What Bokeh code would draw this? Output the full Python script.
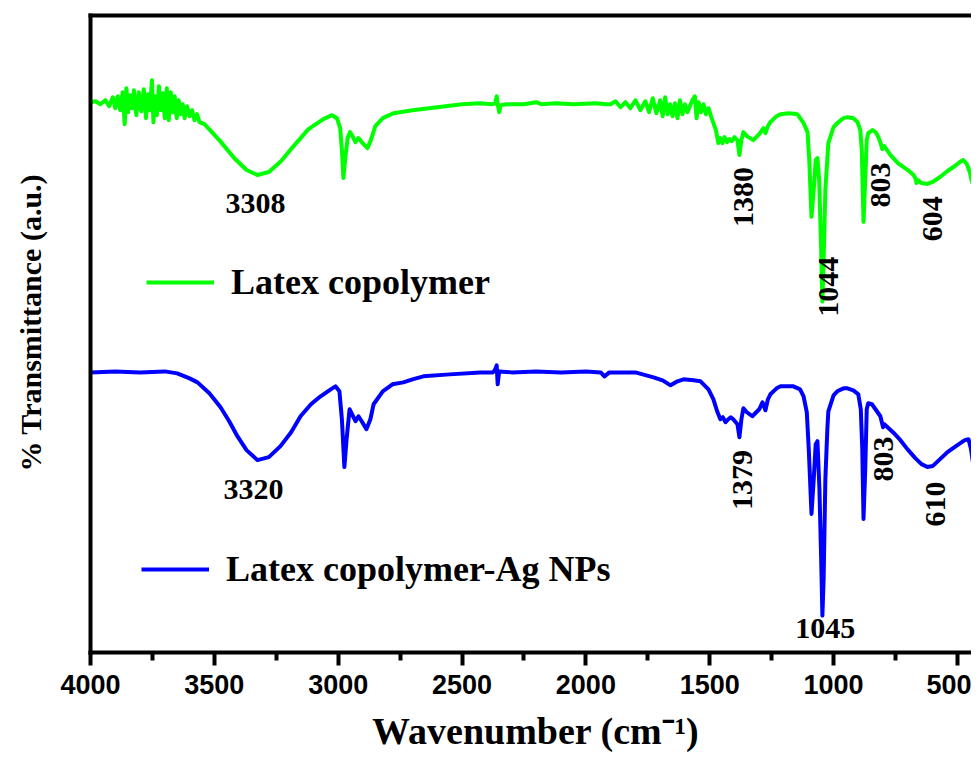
import math
from bokeh.plotting import figure
from bokeh.models import Range1d, FixedTicker, LinearAxis, Label, Legend, LegendItem
from bokeh.embed import file_html
from bokeh.resources import INLINE

# ---------------- data (arbitrary units) ----------------
wn_latex = [4000, 3980, 3960, 3940, 3925, 3910, 3900, 3890, 3880, 3870, 3862, 3855, 3848, 3840,
            3832, 3825, 3815, 3805, 3795, 3785, 3776, 3768, 3760, 3752, 3746, 3740, 3732, 3724,
            3716, 3708, 3700, 3692, 3684, 3676, 3668, 3660, 3652, 3644, 3636, 3628, 3620, 3610,
            3600, 3590, 3580, 3570, 3560, 3540, 3480, 3420, 3370, 3326, 3280, 3230, 3180, 3120,
            3060, 3025, 3005, 2992, 2985, 2979, 2972, 2962, 2952, 2940, 2930, 2918, 2905, 2882,
            2868, 2850, 2820, 2777, 2700, 2600, 2500, 2426, 2380, 2366, 2360, 2355, 2350, 2344,
            2320, 2250, 2200, 2180, 2120, 2050, 1960, 1920, 1900, 1880, 1860, 1840, 1820, 1800,
            1780, 1760, 1745, 1730, 1715, 1700, 1690, 1680, 1670, 1660, 1650, 1640, 1630, 1620,
            1610, 1600, 1590, 1580, 1570, 1560, 1553, 1545, 1535, 1525, 1515, 1505, 1495, 1485,
            1475, 1465, 1457, 1448, 1440, 1430, 1420, 1410, 1400, 1388, 1380, 1372, 1364, 1350,
            1324, 1300, 1283, 1275, 1265, 1255, 1230, 1214, 1180, 1146, 1121, 1105, 1098, 1089,
            1080, 1072, 1065, 1058, 1050, 1045, 1040, 1033, 1021, 1000, 985, 960, 944, 920, 903,
            892, 886, 879, 872, 866, 860, 843, 830, 819, 810, 803, 795, 770, 740, 700, 677, 670,
            665, 660, 645, 621, 600, 570, 540, 510, 490, 476, 462, 450, 441, 435, 428, 420, 411]
t_latex = [552, 553, 550, 554, 548, 557, 546, 558, 544, 562, 530, 566, 542, 559,
           546, 564, 539, 562, 543, 565, 536, 560, 544, 574, 532, 558, 539, 568,
           544, 561, 536, 566, 534, 562, 542, 558, 536, 554, 540, 550, 536, 548,
           538, 544, 534, 540, 532, 530, 514, 496, 484, 479, 482, 493, 508, 525,
           535, 539, 536, 526, 504, 476, 494, 516, 522, 517, 512, 516, 512, 506,
           514, 528, 536, 541, 544, 547, 550, 551, 550, 551, 558, 549, 542, 549,
           550, 550, 552, 550, 551, 550, 551, 550, 550, 553, 547, 552, 546, 554,
           544, 553, 542, 556, 541, 554, 538, 557, 540, 550, 538, 551, 536, 554,
           540, 550, 542, 548, 554, 558, 536, 552, 542, 550, 540, 546, 538, 531,
           524, 511, 516, 511, 517, 512, 515, 513, 517, 514, 499, 514, 522, 518,
           514, 520, 526, 521, 528, 532, 538, 540, 541, 540, 531, 522, 494, 437,
           464, 494, 496, 474, 404, 352, 394, 464, 511, 527, 531, 536, 537, 536, 532,
           524, 504, 432, 474, 514, 521, 524, 522, 517, 511, 505, 508, 499, 491, 484, 479, 476,
           471, 474, 471, 470, 472, 477, 483, 488, 492, 494, 490, 482, 472, 469, 476, 489, 497]

wn_ag = [4000, 3900, 3800, 3700, 3650, 3600, 3568, 3520, 3475, 3440, 3407, 3370, 3326, 3280,
         3233, 3190, 3152, 3110, 3071, 3030, 3011, 2995, 2985, 2975, 2966, 2954, 2942, 2930,
         2918, 2905, 2886, 2870, 2857, 2820, 2781, 2737, 2700, 2656, 2550, 2426, 2375, 2366,
         2360, 2356, 2350, 2300, 2200, 2100, 2000, 1940, 1925, 1905, 1800, 1727, 1690, 1658,
         1630, 1606, 1565, 1537, 1505, 1485, 1470, 1457, 1447, 1436, 1425, 1415, 1405, 1388,
         1380, 1372, 1364, 1350, 1328, 1300, 1287, 1275, 1265, 1255, 1230, 1214, 1162, 1135,
         1121, 1108, 1100, 1089, 1080, 1072, 1065, 1057, 1050, 1045, 1040, 1033, 1025, 1021,
         1000, 985, 960, 944, 920, 900, 890, 884, 879, 872, 866, 860, 845, 825, 811, 800, 795,
         760, 730, 702, 670, 645, 621, 600, 570, 540, 500, 470, 455, 445, 435, 428, 420, 415]
t_ag = [281, 282, 281, 282, 280, 275, 271, 260, 246, 232, 217, 203, 193, 196,
        207, 221, 237, 249, 257, 264, 267, 262, 234, 186, 214, 244, 238, 232,
        237, 232, 224, 234, 249, 262, 269, 271, 274, 277, 279, 281, 281, 284,
        288, 269, 282, 281, 282, 281, 282, 281, 277, 281, 281, 276, 273, 268,
        272, 274, 273, 272, 264, 254, 242, 234, 236, 231, 234, 236, 234, 229,
        216, 234, 245, 241, 237, 244, 251, 243, 254, 259, 265, 267, 267, 264,
        257, 241, 204, 139, 174, 209, 212, 164, 94, 37, 74, 174, 224, 242,
        258, 262, 265, 265, 263, 259, 244, 204, 134, 184, 244, 250, 249, 242, 237, 226, 229,
        221, 213, 204, 195, 189, 186, 187, 194, 201, 208, 213, 214, 204, 187, 196, 209, 217]

series_names = ["Latex copolymer", "Latex copolymer-Ag NPs"]
series_colors = ["#00FF00", "#0000FF"]

x_ticks = [4000, 3500, 3000, 2500, 2000, 1500, 1000, 500]
x_minor = [3750, 3250, 2750, 2250, 1750, 1250, 750]

peak_labels = ["3308", "1380", "1044", "803", "604", "3320", "1379", "803", "610", "1045"]
peak_x = [3334, 1364, 1021, 811, 601, 3342, 1368, 799, 589, 1033]
peak_y = [450, 457, 367, 469, 435, 164, 173, 194, 149, 24]
peak_vertical = [False, True, True, True, True, False, True, True, True, False]

x_title = "\u00a0Wavenumber (cm\u207b\u00b9)"
y_title = "\u00a0" * 3 + "% Transmittance (a.u.)"

SERIF = "Liberation Serif"
SANS = "Liberation Sans"

p = figure(width=971, height=754, output_backend="svg", toolbar_location=None,
           x_range=Range1d(4000, 443), y_range=Range1d(0, 639),
           min_border_left=90, min_border_right=0, min_border_top=15, min_border_bottom=100,
           background_fill_color="white", border_fill_color="white")
p.outline_line_color = None
p.grid.visible = False

# bottom axis
xa = p.xaxis[0]
xa.ticker = FixedTicker(ticks=x_ticks, minor_ticks=x_minor)
xa.axis_line_width = 4
xa.axis_line_color = "black"
xa.axis_line_cap = "square"
xa.major_tick_out = 13
xa.major_tick_in = 0
xa.minor_tick_out = 8
xa.minor_tick_in = 0
xa.major_tick_line_width = 4
xa.minor_tick_line_width = 4
xa.major_tick_line_color = "black"
xa.minor_tick_line_color = "black"
xa.major_label_text_font = SANS
xa.major_label_text_font_style = "bold"
xa.major_label_text_font_size = "27px"
xa.major_label_text_color = "black"
xa.major_label_standoff = 9
xa.axis_label = x_title
xa.axis_label_text_font = SERIF
xa.axis_label_text_font_style = "bold"
xa.axis_label_text_font_size = "38px"
xa.axis_label_text_color = "black"
xa.axis_label_standoff = 13

# left axis (line + title only)
ya = p.yaxis[0]
ya.ticker = FixedTicker(ticks=[])
ya.axis_line_width = 4
ya.axis_line_color = "black"
ya.axis_line_cap = "square"
ya.major_tick_out = 0
ya.major_tick_in = 0
ya.minor_tick_out = 0
ya.minor_tick_in = 0
ya.major_label_standoff = 0
ya.axis_label = y_title
ya.axis_label_text_font = SERIF
ya.axis_label_text_font_style = "bold"
ya.axis_label_text_font_size = "30px"
ya.axis_label_text_color = "black"
ya.axis_label_standoff = 44

# top axis (line only)
top = LinearAxis(ticker=FixedTicker(ticks=[]), axis_line_width=4, axis_line_color="black",
                 axis_line_cap="square", major_tick_out=0, major_tick_in=0,
                 minor_tick_out=0, minor_tick_in=0, major_label_standoff=0)
p.add_layout(top, "above")

r1 = p.line(wn_latex, t_latex, line_color=series_colors[0], line_width=4, line_join="round")
r2 = p.line(wn_ag, t_ag, line_color=series_colors[1], line_width=4, line_join="round")

def make_legend(name, rend, loc):
    return Legend(items=[LegendItem(label=name, renderers=[rend])], location=loc,
                  border_line_color=None, background_fill_alpha=0, padding=0, margin=0,
                  glyph_width=68, glyph_height=40, label_standoff=17, label_height=40,
                  label_text_font=SERIF, label_text_font_style="bold",
                  label_text_font_size="36px", label_text_color="black")

p.add_layout(make_legend(series_names[0], r1, (56, 349)))
p.add_layout(make_legend(series_names[1], r2, (51, 62)))

for txt, xv, yv, vert in zip(peak_labels, peak_x, peak_y, peak_vertical):
    p.add_layout(Label(x=xv, y=yv, text=txt, angle=(math.pi / 2 if vert else 0),
                       text_align="center", text_baseline="middle",
                       text_font=SERIF, text_font_style="bold", text_font_size="30px",
                       text_color="black"))

open("out.html", "w").write(file_html(p, INLINE))
